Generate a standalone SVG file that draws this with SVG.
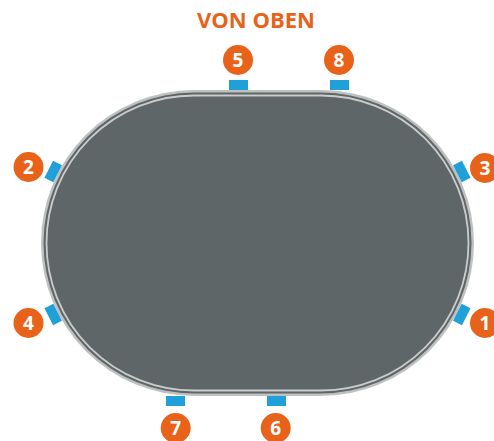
<svg xmlns="http://www.w3.org/2000/svg" width="494" height="441" viewBox="0 0 494 441">
<style>
.title{font-family:"Open Sans","Liberation Sans",sans-serif;font-weight:700;font-size:22px;fill:#e8621a;text-anchor:middle}
.badge circle{fill:#e8621a}
.badge text{font-family:"Open Sans","Liberation Sans",sans-serif;font-weight:700;font-size:19px;fill:#fff;text-anchor:middle}
.tab{fill:#1fa0d8}
</style>
<rect width="494" height="441" fill="#fff"/>
<text class="title" x="256" y="28">VON OBEN</text>
<g id="table">
<rect x="41" y="90" width="433" height="306" rx="153" ry="153" fill="#bfc1c1"/>
<rect x="43.5" y="92.5" width="428" height="301" rx="150.5" ry="150.5" fill="#5f6667"/>
<rect x="46.5" y="95.5" width="422" height="295" rx="147.5" ry="147.5" fill="#5f6667" stroke="#cacccc" stroke-width="1.8"/>
</g>
<g id="tabs">
<rect class="tab" x="229" y="80" width="19" height="10"/>
<rect class="tab" x="330" y="80" width="19" height="10"/>
<rect class="tab" x="166" y="396" width="19" height="10"/>
<rect class="tab" x="267" y="396" width="19" height="10"/>
<rect class="tab" x="-9.5" y="-5" width="19" height="10" transform="translate(53.2 171.5) rotate(-63)"/>
<rect class="tab" x="-9.5" y="-5" width="19" height="10" transform="translate(53.2 314.5) rotate(63)"/>
<rect class="tab" x="-9.5" y="-5" width="19" height="10" transform="translate(461.8 171.5) rotate(63)"/>
<rect class="tab" x="-9.5" y="-5" width="19" height="10" transform="translate(461.8 314.5) rotate(-63)"/>
</g>
<g id="n5" class="badge"><circle cx="238" cy="60" r="15"/><text x="238" y="67">5</text></g>
<g id="n8" class="badge"><circle cx="339" cy="60" r="15"/><text x="339" y="67">8</text></g>
<g id="n2" class="badge"><circle cx="28.5" cy="167" r="15"/><text x="28.5" y="174">2</text></g>
<g id="n4" class="badge"><circle cx="28.5" cy="323" r="15"/><text x="28.5" y="330">4</text></g>
<g id="n3" class="badge"><circle cx="485" cy="168" r="15"/><text x="485" y="175">3</text></g>
<g id="n1" class="badge"><circle cx="485" cy="323" r="15"/><text x="485" y="330">1</text></g>
<g id="n7" class="badge"><circle cx="175.7" cy="428" r="15"/><text x="175.7" y="435">7</text></g>
<g id="n6" class="badge"><circle cx="275.7" cy="428" r="15"/><text x="275.7" y="435">6</text></g>
</svg>
